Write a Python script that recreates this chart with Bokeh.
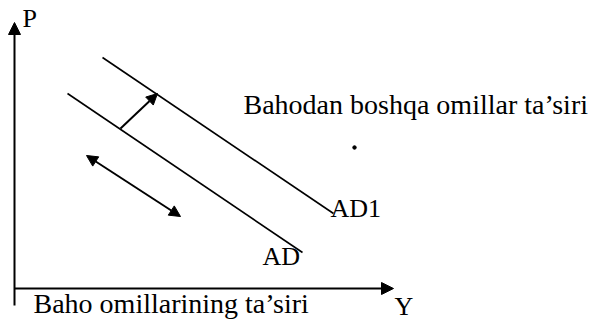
from bokeh.plotting import figure
from bokeh.models import Range1d, Arrow, NormalHead, ColumnDataSource
from bokeh.embed import file_html
from bokeh.resources import INLINE
from bokeh.core.properties import value

# Schematic coordinates: origin at the axes crossing, Y (output) to the right, P (price) up
p_axis_x = [0, 0]
p_axis_p = [-17, 266]
y_axis_x = [0, 379]
y_axis_p = [0, 0]

ad_x = [53, 288]
ad_p = [195, 36]
ad1_x = [88, 319]
ad1_p = [231, 75]

shift_x = [106, 143]          # shift of AD to AD1 (non-price factors)
shift_p = [160, 195]
move_x = [72, 166]            # movement along AD (price factors)
move_p = [133, 72]

dot_x = [340]
dot_p = [141]

axis_labels = ["P", "Y"]
axis_label_x = [8, 380]
axis_label_p = [270, -18]

curve_labels = ["AD1", "AD"]
curve_label_x = [316, 248]
curve_label_p = [80, 32]

note_labels = ["Bahodan boshqa omillar ta’siri", "Baho omillarining ta’siri"]
note_label_x = [229, 19]
note_label_p = [184, -15]

FONT = value("Liberation Serif")

p = figure(width=594, height=320,
           x_range=Range1d(-14, 580), y_range=Range1d(-32, 288),
           output_backend="svg", toolbar_location=None, min_border=0)
p.axis.visible = False
p.grid.visible = False
p.outline_line_color = None
p.background_fill_color = "white"

# axes with arrow heads
axes_src = ColumnDataSource(dict(x0=[p_axis_x[0], y_axis_x[0]], y0=[p_axis_p[0], y_axis_p[0]],
                                 x1=[p_axis_x[1], y_axis_x[1]], y1=[p_axis_p[1], y_axis_p[1]]))
p.add_layout(Arrow(source=axes_src, x_start="x0", y_start="y0", x_end="x1", y_end="y1",
                   line_width=2, line_color="black",
                   end=NormalHead(size=12, fill_color="black", line_color="black", line_width=1)))

# demand curves
p.line(ad_x, ad_p, line_width=1.6, line_color="black")
p.line(ad1_x, ad1_p, line_width=1.6, line_color="black")

# shift arrow
p.add_layout(Arrow(x_start=shift_x[0], y_start=shift_p[0], x_end=shift_x[1], y_end=shift_p[1],
                   line_width=2, line_color="black",
                   end=NormalHead(size=11, fill_color="black", line_color="black", line_width=1)))

# double-headed arrow
p.add_layout(Arrow(x_start=move_x[0], y_start=move_p[0], x_end=move_x[1], y_end=move_p[1],
                   line_width=2, line_color="black",
                   start=NormalHead(size=11, fill_color="black", line_color="black", line_width=1),
                   end=NormalHead(size=11, fill_color="black", line_color="black", line_width=1)))

p.scatter(dot_x, dot_p, size=3.5, color="black")

p.text(axis_label_x, axis_label_p, text=axis_labels, text_font=FONT, text_font_size="26px",
       text_baseline="alphabetic", text_align="left", text_color="black")
p.text(curve_label_x, curve_label_p, text=curve_labels, text_font=FONT, text_font_size="26px",
       text_baseline="alphabetic", text_align="left", text_color="black")
p.text(note_label_x, note_label_p, text=note_labels, text_font=FONT, text_font_size="28px",
       text_baseline="alphabetic", text_align="left", text_color="black")

open("out.html", "w").write(file_html(p, INLINE))
